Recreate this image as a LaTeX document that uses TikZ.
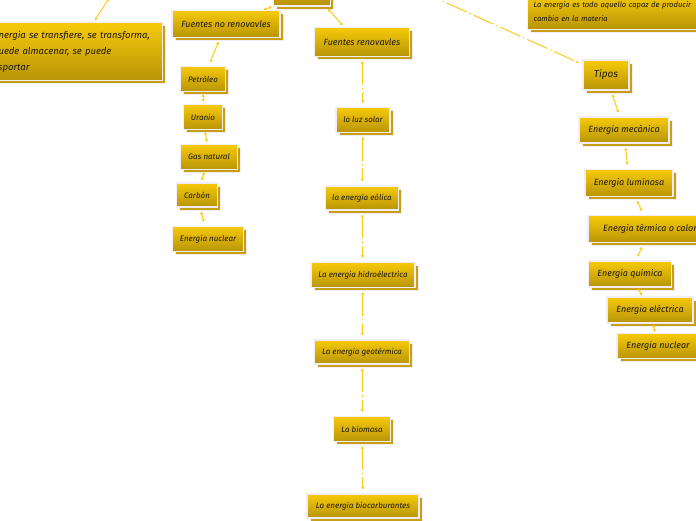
\documentclass[tikz,border=0pt]{standalone}
\usepackage{fontspec}
\setmainfont{Fira Sans}
\usetikzlibrary{shapes,arrows.meta,positioning,shadows}

\definecolor{boxtop}{RGB}{246,202,10}
\definecolor{boxbot}{RGB}{184,148,8}
\definecolor{boxshade}{RGB}{198,160,18}
\definecolor{boxedge}{RGB}{242,236,246}
\definecolor{linkcol}{RGB}{248,204,24}
\definecolor{inkcol}{RGB}{30,25,10}

\begin{document}
\begin{tikzpicture}[x=1pt, y=-1pt,
  card/.style={draw=boxedge, line width=1.2pt, top color=boxtop, bottom color=boxbot,
    general shadow={shadow xshift=3pt, shadow yshift=-3pt, fill=boxshade, draw=boxedge, line width=1pt},
    text=inkcol, font=\itshape\fontsize{8}{9}\selectfont, inner sep=0pt, minimum height=25pt},
  bigcard/.style={card, font=\itshape\fontsize{9}{10}\selectfont},
  link/.style={draw=linkcol, line width=1pt, dash pattern=on 22pt off 3pt on 1.5pt off 3pt,
    {Stealth[length=3pt,width=3.5pt]}-{Stealth[length=3pt,width=3.5pt]},
    shorten <=4pt, shorten >=4pt}]

  \useasboundingbox (0,0) rectangle (696,520);
  \clip (0,0) rectangle (696,520);

  % centre and notes
  \node[card, minimum width=57pt, minimum height=42pt] (root) at (302,-15) {};
  \node[card, anchor=north west, minimum width=189pt, minimum height=58pt,
        text width=175pt, align=left, font=\itshape\fontsize{9.5}{16}\selectfont] (transfer) at (-27,22)
       {La energia se transfiere, se transforma,\\
        se puede almacenar, se puede\\
        transportar};
  \node[card, anchor=south west, text width=226pt, align=left, inner xsep=6pt, inner ysep=8pt,
        font=\itshape\fontsize{7.6}{14}\selectfont] (definition) at (527,30)
       {La energia es todo aquello capaz de producir\\
        cambio en la materia};

  % fuentes
  \node[bigcard, minimum width=108pt, minimum height=27pt] (norenov) at (226,24) {Fuentes no renovavles};
  \node[bigcard, minimum width=95pt, minimum height=29pt] (renov) at (362,42) {Fuentes renovavles};

  \node[card, minimum width=45pt] (petroleo) at (203,79) {Petròleo};
  \node[card, minimum width=39pt] (uranio) at (203,117) {Uranio};
  \node[card, minimum width=57pt] (gas) at (209,157) {Gas natural};
  \node[card, minimum width=41pt, minimum height=24pt] (carbon) at (197,195) {Carbòn};
  \node[card, minimum width=71pt] (nuclearnr) at (208,239) {Energia nuclear};

  \node[card, minimum width=54pt] (solar) at (363,120) {la luz solar};
  \node[card, minimum width=73pt, minimum height=24pt] (eolica) at (362,198) {la energia eòlica};
  \node[card, minimum width=104pt] (hidro) at (363,275) {La energia hidroèlectrica};
  \node[card, minimum width=95pt, minimum height=24pt] (geo) at (362,352) {La energia geotèrmica};
  \node[card, minimum width=57pt] (biomasa) at (362,429) {La biomasa};
  \node[card, minimum width=112pt, minimum height=24pt] (biocarb) at (363,506) {La energia biocarburantes};

  % tipos
  \node[card, minimum width=46pt, minimum height=30pt, font=\itshape\fontsize{10}{12}\selectfont] (tipos) at (606,75) {Tipos};
  \node[bigcard, minimum width=90pt, minimum height=26pt] (mecanica) at (624,130) {Energia mecànica};
  \node[bigcard, minimum width=88pt, minimum height=27pt] (luminosa) at (629,183) {Energia luminosa};
  \node[bigcard, minimum width=124pt, minimum height=27pt] (termica) at (650,229) {Energia tèrmica o calor};
  \node[bigcard, minimum width=83pt, minimum height=26pt] (quimica) at (630,274) {Energia quimica};
  \node[bigcard, minimum width=86pt, minimum height=26pt] (electrica) at (650,310) {Energia elèctrica};
  \node[bigcard, minimum width=82pt] (nucleart) at (658,346) {Energia nuclear};

  \coordinate (upleft) at (109,-2);
  \coordinate (upright) at (418,-10);

  \draw[link, shorten <=2pt, shorten >=0pt] (transfer.49) -- (upleft);
  \draw[link, shorten <=1pt, shorten >=1pt] (root.south west) -- (norenov.21);
  \draw[link, shorten <=3pt, shorten >=2pt] (root.-42) -- (renov.140);
  \draw[link, shorten <=0pt] (upright) -- (tipos);

  \draw[link] (norenov) -- (petroleo);
  \draw[link, shorten <=2pt, shorten >=2pt] (petroleo) -- (uranio);
  \draw[link, shorten <=2pt, shorten >=2pt] (uranio) -- (gas);
  \draw[link, shorten <=2pt, shorten >=2pt] (gas) -- (carbon);
  \draw[link] (carbon) -- (nuclearnr);

  \draw[link] (renov) -- (solar);
  \draw[link] (solar) -- (eolica);
  \draw[link] (eolica) -- (hidro);
  \draw[link] (hidro) -- (geo);
  \draw[link] (geo) -- (biomasa);
  \draw[link] (biomasa) -- (biocarb);

  \draw[link] (tipos) -- (mecanica);
  \draw[link] (mecanica) -- (luminosa);
  \draw[link] (luminosa) -- (termica);
  \draw[link] (termica) -- (quimica);
  \draw[link, shorten <=1pt, shorten >=1pt] (quimica) -- (electrica);
  \draw[link, shorten <=1pt, shorten >=1pt] (electrica) -- (nucleart);
\end{tikzpicture}
\end{document}
